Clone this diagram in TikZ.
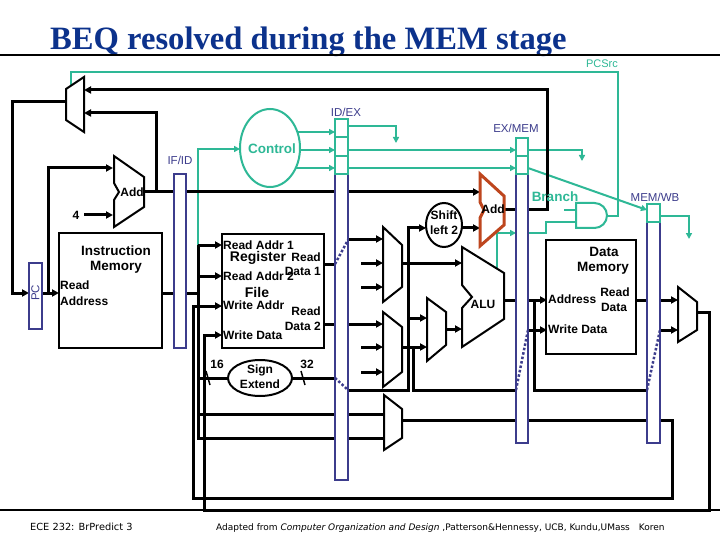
\documentclass[tikz,border=0pt]{standalone}
\usepackage{fontspec}
\setmainfont{Liberation Sans}
\newfontfamily\titlefont{Liberation Serif}
\newfontfamily\footfont{DejaVu Sans}
\usetikzlibrary{arrows.meta,shapes.geometric}
\definecolor{tealc}{RGB}{46,184,150}
\definecolor{regblue}{RGB}{60,60,140}
\definecolor{titleblue}{RGB}{12,50,140}
\definecolor{addred}{RGB}{190,70,30}
\begin{document}
\begin{tikzpicture}[x=1pt,y=-1pt,line join=miter,
  wire/.style={line width=3pt},
  arr/.style={-{Triangle[length=7pt,width=7pt]}},
  tl/.style={draw=tealc,line width=2pt},
  tarr/.style={-{Triangle[length=6pt,width=6pt]}},
  blk/.style={draw=black,line width=2pt,fill=white},
  regbox/.style={draw=regblue,line width=2pt,fill=white,rectangle,inner sep=0pt},
  cell/.style={draw=tealc,line width=2pt},
  dots/.style={draw=regblue,line width=2.5pt,dotted},
  lbl/.style={font=\fontsize{12}{13}\selectfont\bfseries,inner sep=0pt},
  biglbl/.style={font=\fontsize{13.5}{15}\selectfont\bfseries,inner sep=0pt},
  reglbl/.style={font=\fontsize{11.5}{12}\selectfont,text=regblue,inner sep=0pt},
  tlbl/.style={font=\fontsize{13.5}{15}\selectfont\bfseries,text=tealc,inner sep=0pt}]
\useasboundingbox (0,0) rectangle (720,540);
\fill[white] (0,0) rectangle (720,540);

% title and frame lines
\node[anchor=base west,text=titleblue,font=\titlefont\bfseries\fontsize{32.6}{33}\selectfont,inner sep=0pt] (title) at (50,50) {BEQ resolved during the MEM stage};
\draw[line width=1.5pt] (0,55) -- (720,55);
\draw[line width=1.5pt] (0,510) -- (720,510);
\node[anchor=base west,font=\footfont\fontsize{9.8}{10}\selectfont,inner sep=0pt] (foot1) at (30,530) {ECE 232: BrPredict 3};
\node[anchor=base west,font=\footfont\fontsize{9}{10}\selectfont,inner sep=0pt] (foot2) at (216,530) {Adapted from \textit{Computer Organization and Design} ,Patterson\&Hennessy, UCB, Kundu,UMass\quad Koren};

% ---------- teal control wires ----------
\draw[tl] (607,216) -- (618,216) -- (618,72) -- (71,72) -- (71,86);
\draw[tl,tarr] (198,245) -- (198,149) -- (240,149);
\draw[tl,tarr] (297,132) -- (335,132);
\draw[tl,tarr] (300,150) -- (335,150);
\draw[tl,tarr] (296,168) -- (335,168);
\draw[tl,tarr] (348,126) -- (396,126) -- (396,143);
\draw[tl,tarr] (348,150) -- (516,150);
\draw[tl,tarr] (348,168) -- (516,168);
\draw[tl,tarr] (528,150) -- (582,150) -- (582,161);
\draw[tl,tarr] (528,168) -- (647,210);
\draw[tl,tarr] (660,216) -- (689,216) -- (689,239);
\draw[tl,tarr] (497,269) -- (497,233) -- (516,233);
\draw[tl] (528,233) -- (546,233) -- (546,222) -- (576,222);
\draw[tl] (564,210) -- (576,210);

% ---------- black data wires ----------
\draw[wire,arr] (66,102) -- (12,102) -- (12,293) -- (29,293);
\draw[wire,arr] (42,293) -- (59,293);
\draw[wire,arr] (48,293) -- (48,168) -- (113,168);
\draw[wire,arr] (84,215) -- (113,215);
\draw[wire,arr] (144,192) -- (480,192);
\draw[wire,arr] (156,192) -- (156,113) -- (84,113);
\draw[wire,arr] (504,210) -- (547,210) -- (547,90) -- (84,90);
\draw[wire] (162,293) -- (198,293);
\draw[wire] (198,245) -- (198,438) -- (384,438);
\draw[wire,arr] (198,245) -- (222,245);
\draw[wire,arr] (198,276) -- (222,276);
\draw[wire] (198,378) -- (228,378);
\draw[wire] (198,414) -- (384,414);
\draw[wire] (324,264) -- (335,264);
\draw[wire,arr] (348,239) -- (383,239);
\draw[wire,arr] (324,324) -- (383,324);
\draw[wire] (292,378) -- (335,378);
\draw[wire,arr] (348,390) -- (408,390) -- (408,228) -- (426,228);
\draw[wire,arr] (408,318) -- (427,318);
\foreach \y in {263,287,347,372} \draw[wire,arr] (361,\y) -- (383,\y);
\draw[wire,arr] (402,263) -- (462,263);
\draw[wire,arr] (402,347) -- (427,347);
\draw[wire] (413,347) -- (413,390) -- (516,390);
\draw[wire,arr] (446,329) -- (462,329);
\draw[wire,arr] (462,228) -- (480,228);
\draw[wire] (504,300) -- (516,300);
\draw[wire,arr] (528,300) -- (547,300);
\draw[wire] (534,300) -- (534,390) -- (647,390);
\draw[wire,arr] (528,330) -- (547,330);
\draw[wire] (636,300) -- (647,300);
\draw[wire,arr] (660,300) -- (678,300);
\draw[wire,arr] (660,330) -- (678,330);
\draw[wire,arr] (697,312) -- (709,312) -- (709,510) -- (204,510) -- (204,335) -- (222,335);
\draw[wire,arr] (402,420) -- (672,420) -- (672,498) -- (193,498) -- (193,306) -- (222,306);

% ---------- blocks ----------
\node[blk,rectangle,inner sep=0pt,minimum width=103,minimum height=115] (im) at (110.5,290.5) {};
\node[blk,rectangle,inner sep=0pt,minimum width=102,minimum height=114] (rf) at (273,291) {};
\node[blk,rectangle,inner sep=0pt,minimum width=90,minimum height=114] (dm) at (591,297) {};
\node[blk,ellipse,inner sep=0pt,minimum width=64,minimum height=36] (se) at (260,378) {};
\node[blk,ellipse,inner sep=0pt,minimum width=36,minimum height=44] (sl) at (444,225) {};
\node[draw=tealc,line width=2pt,fill=white,ellipse,inner sep=0pt,minimum width=60,minimum height=78] (ctrl) at (270,148) {};

% muxes, adders, ALU
\draw[blk] (66,89) -- (84,77) -- (84,132) -- (66,120) -- cycle;
\draw[blk] (114,156) -- (144,177) -- (144,207) -- (114,227) -- (114,200) -- (119,192) -- (114,183) -- cycle;
\draw[draw=addred,line width=3pt,fill=white] (480,174) -- (504,196) -- (504,225) -- (480,246) -- (480,218) -- (484,210) -- (480,202) -- cycle;
\draw[blk] (462,247) -- (504,273) -- (504,319) -- (462,347) -- (462,308) -- (472,297) -- (462,285) -- cycle;
\draw[blk] (383,227) -- (402,245) -- (402,287) -- (383,302) -- cycle;
\draw[blk] (383,312) -- (402,327) -- (402,372) -- (383,387) -- cycle;
\draw[blk] (427,298) -- (446,312) -- (446,345) -- (427,361) -- cycle;
\draw[blk] (384,395) -- (402,409) -- (402,438) -- (384,450) -- cycle;
\draw[blk] (678,287) -- (697,302) -- (697,330) -- (678,342) -- cycle;
% AND gate
\draw[draw=tealc,line width=2pt,fill=white] (576,203) -- (594.5,203) arc(-90:90:12.5) -- (576,228) -- cycle;

% sign extend ticks
\draw[line width=1.5pt] (206,371) -- (210,385);
\draw[line width=1.5pt] (301,371) -- (305,385);

% ---------- pipeline registers ----------
\node[regbox,minimum width=13,minimum height=66] (pc) at (35.5,296) {};
\node[regbox,minimum width=12,minimum height=174] (ifid) at (180,261) {};
\node[regbox,minimum width=13,minimum height=361] (idex) at (341.5,299.5) {};
\node[regbox,minimum width=12,minimum height=305] (exmem) at (522,290.5) {};
\node[regbox,minimum width=13,minimum height=239] (memwb) at (653.5,323.5) {};
\draw[cell] (335,119) rectangle (348,137);
\draw[cell] (335,137) rectangle (348,156);
\draw[cell] (335,156) rectangle (348,174);
\draw[cell] (516,138) rectangle (528,156);
\draw[cell] (516,156) rectangle (528,174);
\draw[cell] (647,204) rectangle (660,222);
\draw[dots] (335,264) -- (348,240);
\draw[dots] (335,378) -- (348,390);
\draw[dots] (516,390) -- (528,330);
\draw[dots] (647,390) -- (660,330);

% ---------- labels ----------
\node[reglbl,rotate=90] at (35.5,293) {PC};
\node[reglbl] at (180,160) {IF/ID};
\node[reglbl] at (346,112) {ID/EX};
\node[reglbl] at (516,128) {EX/MEM};
\node[reglbl] at (655,197) {MEM/WB};
\node[font=\fontsize{11}{12}\selectfont,text=tealc,inner sep=0pt] at (602,64) {PCSrc};
\node[tlbl] at (555,197) {Branch};
\node[tlbl] at (272,149) {Control};

\node[lbl] at (132,192) {Add};
\node[lbl] at (76,215) {4};
\node[biglbl] at (116,251) {Instruction};
\node[biglbl] at (116,267) {Memory};
\node[lbl,anchor=west] at (60,285) {Read};
\node[lbl,anchor=west] at (60,301) {Address};

\node[lbl,anchor=west] at (223,245) {Read Addr 1};
\node[font=\fontsize{14}{15}\selectfont\bfseries,inner sep=0pt] at (258,258) {Register};
\node[lbl,anchor=east] at (321,257) {Read};
\node[lbl,anchor=east] at (321,271) {Data 1};
\node[lbl,anchor=west] at (223,276) {Read Addr 2};
\node[font=\fontsize{14}{15}\selectfont\bfseries,inner sep=0pt] at (257,292) {File};
\node[lbl,anchor=west] at (223,305) {Write Addr};
\node[lbl,anchor=east] at (321,311) {Read};
\node[lbl,anchor=east] at (321,326) {Data 2};
\node[lbl,anchor=west] at (223,335) {Write Data};

\node[lbl] at (217,364) {16};
\node[lbl] at (307,364) {32};
\node[lbl] at (260,370) {Sign};
\node[lbl] at (260,384) {Extend};
\node[lbl] at (444,215) {Shift};
\node[lbl] at (444,230) {left 2};
\node[lbl] at (493,209) {Add};
\node[lbl] at (483,304) {ALU};

\node[biglbl] at (604,252) {Data};
\node[biglbl] at (603,268) {Memory};
\node[lbl,anchor=west] at (548,299) {Address};
\node[lbl] at (615,292) {Read};
\node[lbl] at (614,307) {Data};
\node[lbl,anchor=west] at (548,329) {Write Data};
\end{tikzpicture}
\end{document}
